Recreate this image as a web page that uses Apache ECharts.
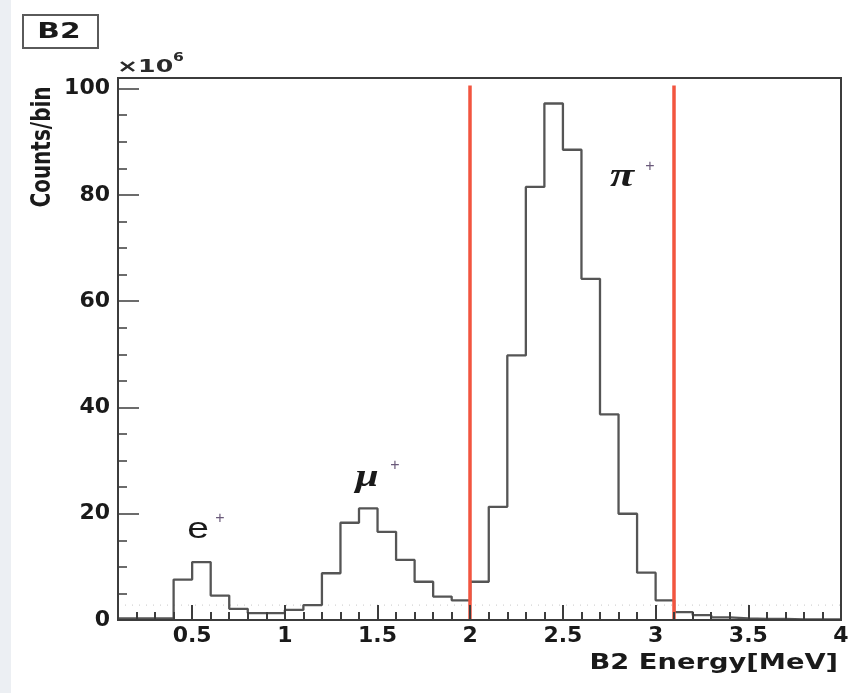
<!DOCTYPE html>
<html>
<head>
<meta charset="utf-8">
<script src="https://cdn.jsdelivr.net/npm/echarts@6/dist/echarts.min.js"></script>
<style>html,body{margin:0;padding:0;background:#fff;}#c{width:848px;height:693px;}</style>
</head>
<body>
<div id="c"></div>
<script>
// Bin lower edges (MeV), bin width 0.1
var binEdges = [0.1,0.2,0.3,0.4,0.5,0.6,0.7,0.8,0.9,1.0,1.1,1.2,1.3,1.4,1.5,1.6,1.7,1.8,1.9,2.0,
                2.1,2.2,2.3,2.4,2.5,2.6,2.7,2.8,2.9,3.0,3.1,3.2,3.3,3.4,3.5,3.6,3.7,3.8,3.9];
var histEnd = 4.0;
// Counts per bin (x10^6)
var counts = [0.3,0.3,0.3,7.6,10.9,4.6,2.1,1.3,1.3,1.9,2.8,8.8,18.3,21.0,16.6,11.3,7.2,4.4,3.7,7.2,
              21.3,49.8,81.5,97.2,88.5,64.2,38.7,20.0,8.9,3.7,1.5,0.9,0.5,0.3,0.2,0.2,0.1,0.1,0.1];
// Axis ticks
var xMajorTicks = [0.5,1,1.5,2,2.5,3,3.5,4];
var xMinorTicks = [0.2,0.3,0.4,0.6,0.7,0.8,0.9,1.1,1.2,1.3,1.4,1.6,1.7,1.8,1.9,2.1,2.2,2.3,2.4,2.6,2.7,2.8,2.9,3.1,3.2,3.3,3.4,3.6,3.7,3.8,3.9];
var yMajorTicks = [0,20,40,60,80,100];
var yMinorTicks = [5,10,15,25,30,35,45,50,55,65,70,75,85,90,95];
// Selection cut lines (MeV) and their height
var cutLines = [2.0, 3.1];
var cutTop = 100.6;
// Faint dotted reference level
var dottedLevel = 2.8;

var stepData = binEdges.map(function (e, i) { return [e, counts[i]]; });
stepData.push([histEnd, counts[counts.length - 1]]);

var axisColor = '#3c3c3c';
var labelFont = { fontFamily: 'DejaVu Sans', fontWeight: 'bold', fontSize: 22, color: '#1a1a1a' };
var gridBox = { left: 118, right: 7, top: 78, bottom: 73, outerBoundsMode: 'none', containLabel: false };

var chart = echarts.init(document.getElementById('c'));
chart.setOption({
  animation: false,
  backgroundColor: '#ffffff',
  grid: [
    Object.assign({ show: true, borderColor: axisColor, borderWidth: 2 }, gridBox),
    Object.assign({ show: false }, gridBox)
  ],
  xAxis: [
    { type: 'value', gridIndex: 0, min: 0.1, max: 4, position: 'bottom', z: 10,
      axisLine: { show: true, lineStyle: { color: axisColor, width: 2 } },
      axisTick: { show: true, inside: true, length: 15, customValues: xMajorTicks, lineStyle: { color: axisColor, width: 2 } },
      axisLabel: Object.assign({ show: true, margin: 5, customValues: xMajorTicks }, labelFont),
      splitLine: { show: false } },
    { type: 'value', gridIndex: 1, min: 0.1, max: 4, position: 'bottom', z: 10,
      axisLine: { show: false },
      axisTick: { show: true, inside: true, length: 8, customValues: xMinorTicks, lineStyle: { color: axisColor, width: 2 } },
      axisLabel: { show: false },
      splitLine: { show: false } }
  ],
  yAxis: [
    { type: 'value', gridIndex: 0, min: 0, max: 102, position: 'left', z: 10,
      axisLine: { show: true, lineStyle: { color: axisColor, width: 2 } },
      axisTick: { show: true, inside: true, length: 21, customValues: yMajorTicks, lineStyle: { color: axisColor, width: 1.5 } },
      axisLabel: Object.assign({ show: true, margin: 8, customValues: yMajorTicks }, labelFont),
      splitLine: { show: false } },
    { type: 'value', gridIndex: 1, min: 0, max: 102, position: 'left', z: 10,
      axisLine: { show: false },
      axisTick: { show: true, inside: true, length: 9, customValues: yMinorTicks, lineStyle: { color: axisColor, width: 1.5 } },
      axisLabel: { show: false },
      splitLine: { show: false } }
  ],
  series: [
    { type: 'line', name: 'dotted', xAxisIndex: 0, yAxisIndex: 0, symbol: 'none', silent: true,
      data: [[0.1, dottedLevel], [histEnd, dottedLevel]],
      lineStyle: { color: '#d4d4d4', width: 1.2, type: [1, 6] }, z: 1 },
    { type: 'line', name: 'B2', xAxisIndex: 0, yAxisIndex: 0, step: 'end', symbol: 'none',
      data: stepData, lineStyle: { color: '#555555', width: 2.3 }, z: 3,
      markLine: { silent: true, symbol: 'none', label: { show: false },
        lineStyle: { color: '#f2553f', width: 3.5, type: 'solid' },
        data: cutLines.map(function (c) { return [{ coord: [c, 0] }, { coord: [c, cutTop] }]; }) } }
  ],
  graphic: [
    { type: 'rect', shape: { x: 0, y: 0, width: 11, height: 693 }, style: { fill: '#eceff3' }, z: -10 },
    { type: 'rect', shape: { x: 23, y: 15, width: 75, height: 33 }, style: { fill: '#ffffff', stroke: '#5a5a5a', lineWidth: 2 } },
    { type: 'text', x: 59, y: 32, scaleX: 1.35,
      style: { text: 'B2', font: 'bold 22px "DejaVu Sans"', fill: '#1a1a1a', align: 'center', verticalAlign: 'middle' } },
    { type: 'text', x: 117, y: 67, scaleX: 1.4,
      style: { text: '×10', font: 'bold 18px "DejaVu Sans"', fill: '#2a2a2a', align: 'left', verticalAlign: 'middle' } },
    { type: 'text', x: 173, y: 58, scaleX: 1.3,
      style: { text: '6', font: 'bold 12px "DejaVu Sans"', fill: '#2a2a2a', align: 'left', verticalAlign: 'middle' } },
    { type: 'text', x: 43, y: 147, rotation: Math.PI / 2, scaleY: 1.35,
      style: { text: 'Counts/bin', font: 'bold 20px "DejaVu Sans"', fill: '#1a1a1a', align: 'center', verticalAlign: 'middle' } },
    { type: 'text', x: 838, y: 664, scaleX: 1.3,
      style: { text: 'B2 Energy[MeV]', font: 'bold 21px "DejaVu Sans"', fill: '#1a1a1a', align: 'right', verticalAlign: 'middle' } },
    { type: 'text', x: 198, y: 530, scaleX: 1.3,
      style: { text: 'e', font: '30px "Liberation Sans"', fill: '#1a1a1a', align: 'center', verticalAlign: 'middle' } },
    { type: 'text', x: 220, y: 519,
      style: { text: '+', font: '16px "Liberation Sans"', fill: '#6a5a7a', align: 'center', verticalAlign: 'middle' } },
    { type: 'text', x: 367, y: 478, scaleX: 1.3,
      style: { text: 'μ', font: 'italic bold 32px "Liberation Serif"', fill: '#1a1a1a', align: 'center', verticalAlign: 'middle' } },
    { type: 'text', x: 395, y: 466,
      style: { text: '+', font: '16px "Liberation Sans"', fill: '#6a5a7a', align: 'center', verticalAlign: 'middle' } },
    { type: 'text', x: 622, y: 177, scaleX: 1.3,
      style: { text: 'π', font: 'italic bold 34px "Liberation Serif"', fill: '#1a1a1a', align: 'center', verticalAlign: 'middle' } },
    { type: 'text', x: 650, y: 167,
      style: { text: '+', font: '16px "Liberation Sans"', fill: '#6a5a7a', align: 'center', verticalAlign: 'middle' } }
  ]
});
</script>
</body>
</html>
